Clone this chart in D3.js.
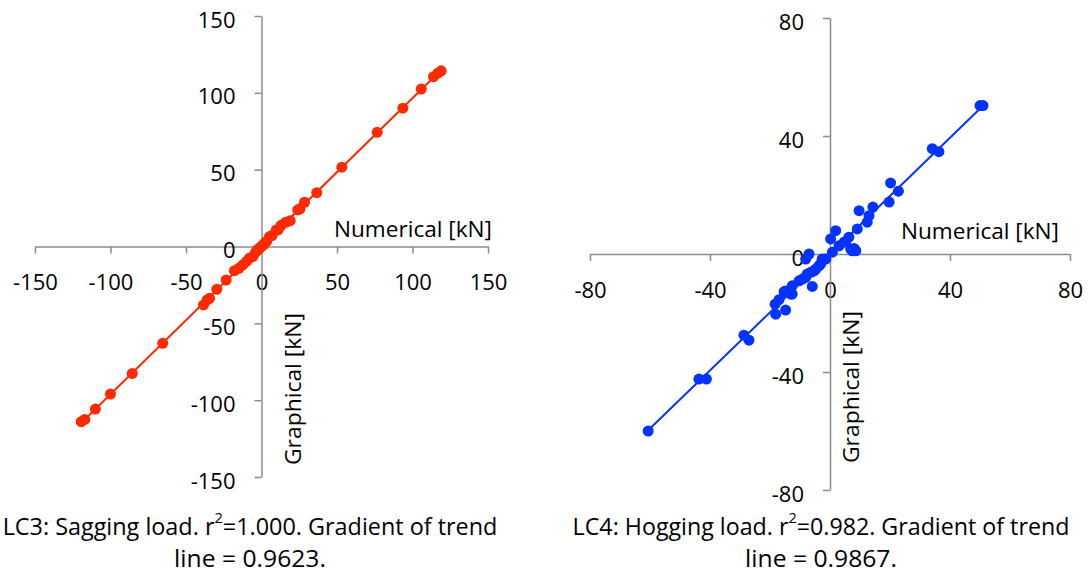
<!DOCTYPE html>
<html>
<head>
<meta charset="utf-8">
<script src="https://cdn.jsdelivr.net/npm/d3@7"></script>
<style>
  body { margin: 0; background: #fff; }
  svg { display: block; font-family: "Open Sans", sans-serif; }
</style>
</head>
<body>
<svg id="chart" width="1089" height="575"></svg>
<script>
// LC3 - sagging load
let lc3Numerical = [-119.4, -117, -110, -100, -85.6, -65.4, -38.4, -36, -34.4, -29.6, -23.4, -17.9, -15, -12.4, -10, -8, -5.8, -4, -3, -2.4, -1.5, -0.5, 0.5, 1.5, 2.5, 3.5, 5.3, 7, 9.7, 11, 13, 16, 19, 24, 25.5, 28.5, 36.6, 53.2, 76.6, 93.6, 105.8, 113.9, 116.8, 119];
let lc3Graphical = [-114, -112.5, -105.8, -96, -82.6, -63, -38, -34.8, -33.7, -27.9, -21.8, -15.7, -14.2, -12, -9.8, -7.6, -6.6, -3.9, -2.6, -2.3, -1.3, -0.4, 0.6, 1.3, 2.6, 3.5, 6.4, 7.2, 10.7, 10.8, 13.8, 15.7, 16.8, 23.8, 24.5, 28.8, 35, 51.6, 74.3, 90, 102.5, 110.5, 112.8, 114.3];
let lc3Ticks = [-150, -100, -50, 0, 50, 100, 150];

// LC4 - hogging load
let lc4Numerical = [-60.6, -43.7, -41.2, -28.7, -27, -18.3, -18.1, -17, -15.3, -14.8, -14.8, -13.1, -12.6, -12.6, -10.3, -9.2, -8.1, -8.1, -7.6, -7, -6.4, -5.9, -5.3, -4.7, -3.7, -3.1, -2.6, -1.4, 0.2, 0.8, 1.9, 3, 4.7, 5.2, 6.3, 6.9, 7.4, 8, 8.6, 9.1, 9.7, 12.4, 13, 14.3, 19.7, 20.2, 22.8, 34.1, 36.3, 50, 51];
let lc4Graphical = [-60, -42.4, -42.4, -27.5, -29.2, -17, -20.4, -15.5, -12.8, -19, -12.5, -13.6, -10.8, -13.6, -9.1, -8.5, -7.9, -1.7, -6.8, 0, -6.2, -11, -5.7, -5.1, -4, -3.4, -1.7, -1.7, 5.1, 0.6, 7.9, 2.8, 4, 4.2, 5.7, 1.7, 1.1, 1.9, 1.1, 8.5, 14.7, 10.8, 13, 15.9, 17.6, 24.1, 21.3, 35.7, 34.7, 50.3, 50.3];
let lc4Ticks = [-80, -40, 0, 40, 80];

let xTitle = "Numerical [kN]", yTitle = "Graphical [kN]";

let svg = d3.select("#chart");

function drawPanel(p) {
    let x = d3.scaleLinear().domain(d3.extent(p.ticks)).range(p.xRange);
    let y = d3.scaleLinear().domain(d3.extent(p.ticks)).range(p.yRange);
    let g = svg.append("g");
    let fmt = d => String(d);  // plain hyphen minus, like the original

    // axes cross at zero
    let xAxis = g.append("g")
        .attr("transform", "translate(0," + y(0) + ")")
        .call(d3.axisBottom(x).tickValues(p.ticks).tickFormat(fmt).tickSize(7).tickSizeOuter(0).tickPadding(21));
    let yAxis = g.append("g")
        .attr("transform", "translate(" + x(0) + ",0)")
        .call(d3.axisLeft(y).tickValues(p.ticks).tickFormat(fmt).tickSize(7).tickSizeOuter(0).tickPadding(19));
    [xAxis, yAxis].forEach(a => {
        a.selectAll("path, line").attr("stroke", "#8c8c8c").attr("stroke-width", 1.5);
        a.selectAll("text").attr("font-size", 22).attr("fill", "#000")
            .attr("font-family", "'Open Sans', sans-serif");
    });
    yAxis.selectAll("text").attr("dy", "0.5em");

    // axis titles
    g.append("text")
        .attr("x", p.xTitle[0]).attr("y", p.xTitle[1])
        .attr("text-anchor", "end").attr("font-size", 22)
        .attr("textLength", 158).attr("lengthAdjust", "spacingAndGlyphs")
        .text(xTitle);
    g.append("text")
        .attr("transform", "translate(" + p.yTitle[0] + "," + p.yTitle[1] + ") rotate(-90)")
        .attr("text-anchor", "start").attr("font-size", 22)
        .attr("textLength", 152).attr("lengthAdjust", "spacingAndGlyphs")
        .text(yTitle);

    // linear trend line from least squares
    let pts = p.xs.map((v, i) => [v, p.ys[i]]);
    let mx = d3.mean(p.xs), my = d3.mean(p.ys);
    let slope = d3.sum(pts, d => (d[0] - mx) * (d[1] - my)) / d3.sum(pts, d => (d[0] - mx) * (d[0] - mx));
    let icpt = my - slope * mx;
    let ext = d3.extent(p.xs);
    g.append("path")
        .datum(ext.map(v => [v, slope * v + icpt]))
        .attr("d", d3.line().x(d => x(d[0])).y(d => y(d[1])))
        .attr("fill", "none").attr("stroke", p.color).attr("stroke-width", 2);

    g.selectAll("circle")
        .data(pts)
        .enter()
        .append("circle")
        .attr("cx", d => x(d[0]))
        .attr("cy", d => y(d[1]))
        .attr("r", 5.5)
        .attr("fill", p.color);

    // caption, squeezed to the original narrow width
    p.caption.forEach((line, i) => {
        let t = g.append("text")
            .attr("text-anchor", "middle").attr("font-size", 24)
            .attr("transform", "translate(" + p.capX + "," + p.capY[i] + ")");
        line.forEach(part => {
            let s = t.append("tspan").text(part.t);
            if (part.sup) s.attr("font-size", 15).attr("baseline-shift", "80%");
        });
        let w = t.node().getComputedTextLength();
        t.attr("transform", "translate(" + p.capX + "," + p.capY[i] + ") scale(" + (p.capW[i] / w) + ",1)");
    });
}

drawPanel({
    xs: lc3Numerical, ys: lc3Graphical, ticks: lc3Ticks,
    xRange: [35, 488], yRange: [477, 16], color: "#ff2a00",
    xTitle: [492, 237], yTitle: [301, 465],
    capX: 250, capY: [535, 567], capW: [495, 152],
    caption: [
        [{t: "LC3: Sagging load. r"}, {t: "2", sup: true}, {t: "=1.000. Gradient of trend"}],
        [{t: "line = 0.9623."}]
    ]
});

drawPanel({
    xs: lc4Numerical, ys: lc4Graphical, ticks: lc4Ticks,
    xRange: [590, 1070], yRange: [490, 18], color: "#0433ff",
    xTitle: [1059, 239], yTitle: [859, 463],
    capX: 821, capY: [535, 567], capW: [497, 152],
    caption: [
        [{t: "LC4: Hogging load. r"}, {t: "2", sup: true}, {t: "=0.982. Gradient of trend"}],
        [{t: "line = 0.9867."}]
    ]
});
</script>
</body>
</html>
